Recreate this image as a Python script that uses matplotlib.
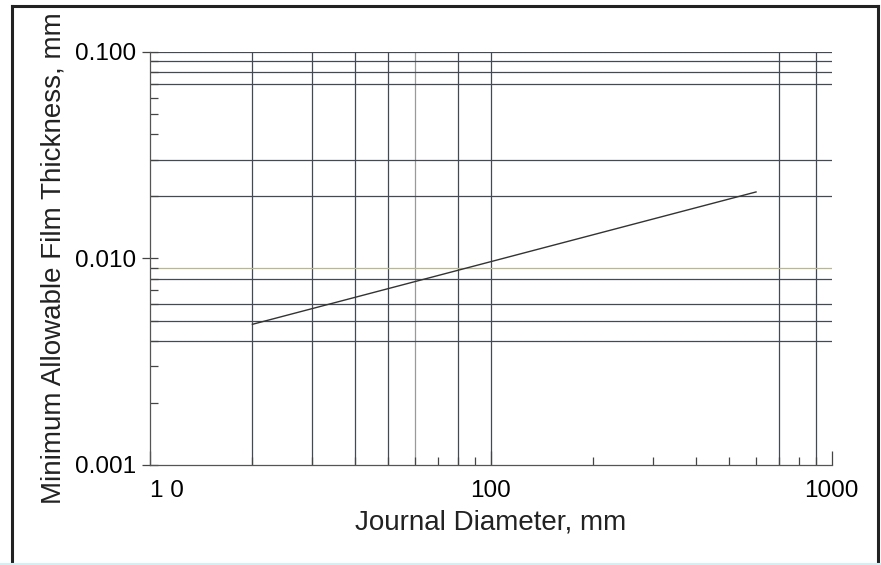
import matplotlib.pyplot as plt
from matplotlib.lines import Line2D
from matplotlib.ticker import FixedLocator, NullFormatter

plt.rcParams['font.family'] = ['Liberation Sans', 'DejaVu Sans']

# data
diameter = [20, 600]            # mm
film = [0.0048, 0.021]          # mm

x_grid = [20, 30, 40, 50, 60, 80, 100, 700, 900]
y_grid = [0.004, 0.005, 0.006, 0.008, 0.009, 0.02, 0.03, 0.07, 0.08, 0.09, 0.1]
light_x = [60]
light_y = [0.009]

x_major = [10, 100, 1000]
x_labels = ['1 0', '100', '1000']
y_major = [0.001, 0.01, 0.1]
y_labels = ['0.001', '0.010', '0.100']

fig = plt.figure(figsize=(8.81, 5.65), dpi=100)
ax = fig.add_axes([0.170, 0.177, 0.774, 0.731])

for x in x_grid:
    c = '#9a9a9a' if x in light_x else '#444a55'
    ax.axvline(x, color=c, lw=0.9, zorder=1)
for y in y_grid:
    c = '#b8b890' if y in light_y else '#444a55'
    ax.axhline(y, color=c, lw=0.9, zorder=1)

ax.plot(diameter, film, color='#333333', lw=1.0, zorder=2)

ax.set_xscale('log')
ax.set_yscale('log')
ax.set_xlim(10, 1000)
ax.set_ylim(0.001, 0.1)

ax.xaxis.set_major_locator(FixedLocator(x_major))
ax.set_xticklabels(x_labels)
ax.yaxis.set_major_locator(FixedLocator(y_major))
ax.set_yticklabels(y_labels)
ax.xaxis.set_minor_formatter(NullFormatter())
ax.yaxis.set_minor_formatter(NullFormatter())

ax.tick_params(which='major', direction='inout', length=12, width=0.9,
               color='#444444', labelsize=17.5, pad=4)
ax.tick_params(axis='x', which='major', direction='in', length=10, pad=11)
ax.tick_params(which='minor', direction='in', length=6, width=0.9, color='#444444')

# first x label sits a little right of the axis corner
ax.get_xticklabels()[0].set_horizontalalignment('left')

for s in ['top', 'right']:
    ax.spines[s].set_visible(False)
for s in ['left', 'bottom']:
    ax.spines[s].set_color('#555555')
    ax.spines[s].set_linewidth(0.9)

ax.set_xlabel('Journal Diameter, mm', fontsize=20, labelpad=5, color='#222222')
ax.set_ylabel('Minimum Allowable Film Thickness, mm', fontsize=20, labelpad=6,
              color='#222222')

# outer frame
fig.add_artist(Line2D([12/881, 12/881], [0, 1 - 6/565], color='#222222', lw=2.2))
fig.add_artist(Line2D([12/881, 878/881], [1 - 6/565, 1 - 6/565], color='#222222', lw=2.2))
fig.add_artist(Line2D([878/881, 878/881], [0, 1 - 6/565], color='#222222', lw=2.2))
fig.add_artist(Line2D([0, 1], [1/565, 1/565], color='#d6eff3', lw=1.5))

fig.savefig('out.png', dpi=100)
